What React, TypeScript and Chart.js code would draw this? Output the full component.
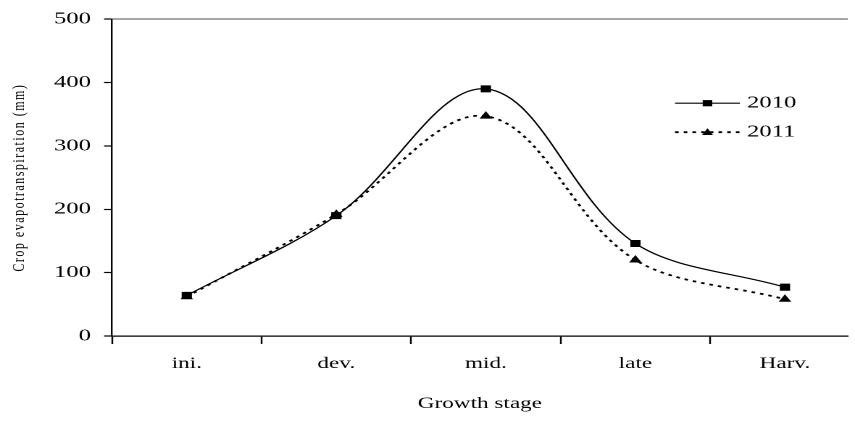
import React, { useEffect, useRef } from 'react';
import { Chart, registerables } from 'chart.js';

Chart.register(...registerables);

// ---- data ----
const categories = ['ini.', 'dev.', 'mid.', 'late', 'Harv.'];
const et2010 = [64, 190, 390, 146, 77];
const et2011 = [62, 192, 347, 120, 58];
const seriesNames = ['2010', '2011'];
const yTickValues = [0, 100, 200, 300, 400, 500];
const xTitle = 'Growth stage';
const yTitle = 'Crop evapotranspiration (mm)';

// ---- layout / style ----
const CANVAS_W = 590;
const CANVAS_H = 430;
const STRETCH = 855 / CANVAS_W;
const SERIF = '"Liberation Serif", "Times New Roman", serif';

const yTitlePlugin = {
  id: 'yTitleSpaced',
  afterDraw(chart: any) {
    const { ctx, chartArea } = chart;
    ctx.save();
    ctx.translate(13.5, (chartArea.top + chartArea.bottom) / 2);
    ctx.rotate(-Math.PI / 2);
    ctx.font = `12px ${SERIF}`;
    try { (ctx as any).letterSpacing = '1.5px'; } catch (e) { /* ignore */ }
    ctx.fillStyle = '#000';
    ctx.textAlign = 'center';
    ctx.textBaseline = 'middle';
    ctx.fillText(yTitle, 0, 0);
    ctx.restore();
  },
};

const legendPlugin = {
  id: 'insideLegend',
  afterDraw(chart: any) {
    const { ctx, chartArea } = chart;
    const x0 = chartArea.left + 388.5;
    const x1 = chartArea.left + 433.3;
    const xm = (x0 + x1) / 2;
    const xt = chartArea.left + 438.2;
    const rows = [chartArea.top + 84, chartArea.top + 113];
    chart.data.datasets.forEach((ds: any, i: number) => {
      const y = rows[i];
      ctx.save();
      ctx.strokeStyle = ds.borderColor;
      ctx.lineWidth = ds.borderWidth;
      ctx.setLineDash(ds.borderDash || []);
      ctx.beginPath();
      ctx.moveTo(x0, y);
      ctx.lineTo(x1, y);
      ctx.stroke();
      ctx.setLineDash([]);
      ctx.fillStyle = '#000';
      if (ds.pointStyle === 'rect') {
        ctx.fillRect(xm - 3.3, y - 3.1, 6.6, 6.2);
      } else {
        ctx.beginPath();
        ctx.moveTo(xm, y - 4);
        ctx.lineTo(xm + 3.8, y + 2.8);
        ctx.lineTo(xm - 3.8, y + 2.8);
        ctx.closePath();
        ctx.fill();
      }
      ctx.font = `17px ${SERIF}`;
      ctx.textAlign = 'left';
      ctx.textBaseline = 'middle';
      ctx.fillText(seriesNames[i], xt, y);
      ctx.restore();
    });
  },
};

export default function App() {
  const canvasRef = useRef<HTMLCanvasElement | null>(null);

  useEffect(() => {
    document.body.style.margin = '0';
    const canvas = canvasRef.current;
    if (!canvas) return;
    const isBoundary = (v: number) => !Number.isInteger(v);
    const chart = new Chart(canvas, {
      type: 'line',
      data: {
        datasets: [
          {
            label: seriesNames[0],
            data: categories.map((_, i) => ({ x: i, y: et2010[i] })),
            borderColor: '#000',
            borderWidth: 1.2,
            pointStyle: 'rect',
            pointRadius: 5,
            pointBackgroundColor: '#000',
            pointBorderColor: '#000',
            pointBorderWidth: 0,
            tension: 0.35,
            fill: false,
          },
          {
            label: seriesNames[1],
            data: categories.map((_, i) => ({ x: i, y: et2011[i] })),
            borderColor: '#000',
            borderWidth: 1.8,
            borderDash: [2.5, 3.5],
            pointStyle: 'triangle',
            pointRadius: 5,
            pointBackgroundColor: '#000',
            pointBorderColor: '#000',
            pointBorderWidth: 0,
            tension: 0.35,
            fill: false,
          },
        ],
      },
      options: {
        responsive: false,
        animation: false,
        devicePixelRatio: 2,
        layout: { padding: { top: 19, left: 0, right: 0, bottom: 0 } },
        plugins: { legend: { display: false }, tooltip: { enabled: false } },
        scales: {
          x: {
            type: 'linear',
            min: -0.5,
            max: 4.42,
            afterBuildTicks: (s: any) => {
              const vals: number[] = [];
              for (let i = 0; i < categories.length; i++) {
                vals.push(i - 0.5, i);
              }
              s.ticks = vals.map((v) => ({ value: v }));
            },
            afterFit: (s: any) => { s.height = 94; },
            border: { color: '#000', width: 1.2 },
            grid: {
              drawOnChartArea: false,
              drawTicks: true,
              tickLength: 8,
              color: (c: any) => (c.tick && isBoundary(c.tick.value) ? '#000' : 'rgba(0,0,0,0)'),
              tickColor: (c: any) => (c.tick && isBoundary(c.tick.value) ? '#000' : 'rgba(0,0,0,0)'),
              tickWidth: 1.2,
            },
            ticks: {
              autoSkip: false,
              maxRotation: 0,
              padding: 10,
              color: '#000',
              font: { family: SERIF, size: 16 },
              callback: (v: any) => (Number.isInteger(v) ? categories[v] : ''),
            },
            title: {
              display: true,
              text: xTitle,
              color: '#000',
              font: { family: SERIF, size: 16 },
              padding: { top: 0, bottom: 16.4 },
            },
          },
          y: {
            min: 0,
            max: 500,
            afterBuildTicks: (s: any) => { s.ticks = yTickValues.map((v) => ({ value: v })); },
            afterFit: (s: any) => { s.width = 77.3; },
            border: { color: '#000', width: 1.2 },
            grid: {
              drawOnChartArea: true,
              drawTicks: true,
              tickLength: 5.5,
              color: (c: any) => (c.tick && c.tick.value === 500 ? '#a6a6a6' : 'rgba(0,0,0,0)'),
              lineWidth: (c: any) => (c.tick && c.tick.value === 500 ? 2 : 1),
              tickColor: '#000',
              tickWidth: 1.2,
            },
            ticks: {
              padding: 9,
              color: '#000',
              font: { family: SERIF, size: 17 },
            },
          },
        },
      },
      plugins: [yTitlePlugin, legendPlugin],
    } as any);
    return () => chart.destroy();
  }, []);

  return (
    <div style={{ position: 'relative', width: 855, height: 430, overflow: 'hidden', background: '#fff' }}>
      <canvas
        ref={canvasRef}
        width={CANVAS_W}
        height={CANVAS_H}
        style={{ transform: `scaleX(${STRETCH})`, transformOrigin: '0 0' }}
      />
    </div>
  );
}
